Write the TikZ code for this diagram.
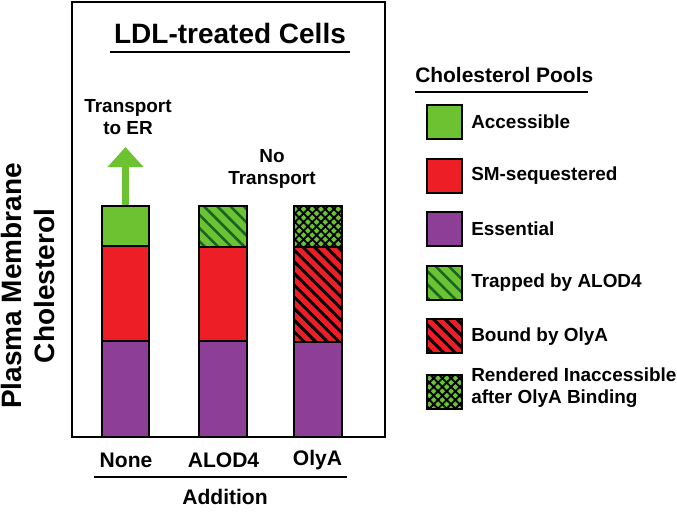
\documentclass[tikz,border=0pt]{standalone}
\usepackage{fontspec}
\setmainfont{Liberation Sans}
\usetikzlibrary{arrows.meta,patterns.meta}
\definecolor{cGreen}{RGB}{108,194,48}
\definecolor{cRed}{RGB}{238,30,38}
\definecolor{cPurple}{RGB}{141,62,150}
\definecolor{cDkGreen}{RGB}{20,100,40}
\tikzset{
  seg/.style={draw=black, line width=1.4pt},
  poolAcc/.style={seg, fill=cGreen},
  poolSM/.style={seg, fill=cRed},
  poolEss/.style={seg, fill=cPurple},
  poolTrap/.style={seg, preaction={fill=cGreen}, pattern={Lines[angle=-45,distance=7pt,line width=1.9pt]}, pattern color=cDkGreen},
  poolBound/.style={seg, preaction={fill=cRed}, pattern={Lines[angle=-45,distance=6.2pt,line width=2.2pt]}, pattern color=black},
  poolRend/.style={seg, preaction={fill=cGreen}, pattern={Hatch[angle=45,distance=4.6pt,line width=1.4pt]}, pattern color=black},
  lbl/.style={font=\fontsize{14.2}{16.5}\selectfont\bfseries, inner sep=0pt},
  barlbl/.style={font=\fontsize{15.8}{18}\selectfont\bfseries, inner sep=0pt},
  rule/.style={line width=1.5pt}
}
\begin{document}
\begin{tikzpicture}[x=0.75pt,y=-0.75pt, line join=miter]
  \useasboundingbox (0,0) rectangle (677,517);
  % --- bars ---
  \draw[poolEss] (102,341) rectangle (149,437);
  \draw[poolSM]  (102,246) rectangle (149,341);
  \draw[poolAcc] (102,206) rectangle (149,246);
  \draw[poolEss] (199,341) rectangle (247,437);
  \draw[poolSM]  (199,247) rectangle (247,341);
  \draw[poolTrap] (199,206) rectangle (247,247);
  \draw[poolEss] (294,342) rectangle (342,437);
  \draw[poolBound] (294,247) rectangle (342,342);
  \draw[poolRend] (294,206) rectangle (342,247);
  % --- frame ---
  \draw[line width=1.6pt] (72,2) rectangle (385,437);
  \node[font=\fontsize{21}{25}\selectfont\bfseries, inner sep=0pt] (title) at (230,33) {LDL-treated Cells};
  \draw[rule] (110,52) -- (350,52);
  % --- transport ---
  \coordinate (noneTop) at (125.5,205);
  \coordinate (erTip) at (125.5,147);
  \draw[cGreen, line width=5pt, -{Triangle[width=26pt,length=15pt]}] (noneTop) -- (erTip);
  \node[lbl, align=center] (toER) at (128,117) {Transport\\to ER};
  \node[lbl, align=center] (noTr) at (272,169) {No\\Transport};
  % --- axis labels ---
  \node[barlbl] (none) at (126,460) {None};
  \node[barlbl] (alod) at (223.5,460) {ALOD4};
  \node[barlbl] (olya) at (317.5,460) {OlyA};
  \draw[rule] (94,477) -- (347,477);
  \node[barlbl] (addn) at (225,497) {Addition};
  \node[font=\fontsize{21}{25}\selectfont\bfseries, rotate=90, align=center, inner sep=0pt] (ylab) at (28,286) {Plasma Membrane\\Cholesterol};
  % --- legend ---
  \node[font=\fontsize{15.7}{18}\selectfont\bfseries, anchor=west, inner sep=0pt] (legT) at (415,75) {Cholesterol Pools};
  \draw[rule] (415,92) -- (588,92);
  \foreach \sty/\txt [count=\i from 0] in {poolAcc/Accessible, poolSM/SM-sequestered, poolEss/Essential, poolTrap/Trapped by ALOD4, poolBound/Bound by OlyA}{
    \draw[\sty] (427,105+53.6*\i) rectangle (462,139+53.6*\i);
    \node[lbl, anchor=west] (leg\i) at (471,122+53.6*\i) {\txt};
  }
  \draw[poolRend] (427,375) rectangle (462,409);
  \node[lbl, anchor=west, align=left] (leg5) at (471,388) {Rendered Inaccessible\\after OlyA Binding};
\end{tikzpicture}
\end{document}
